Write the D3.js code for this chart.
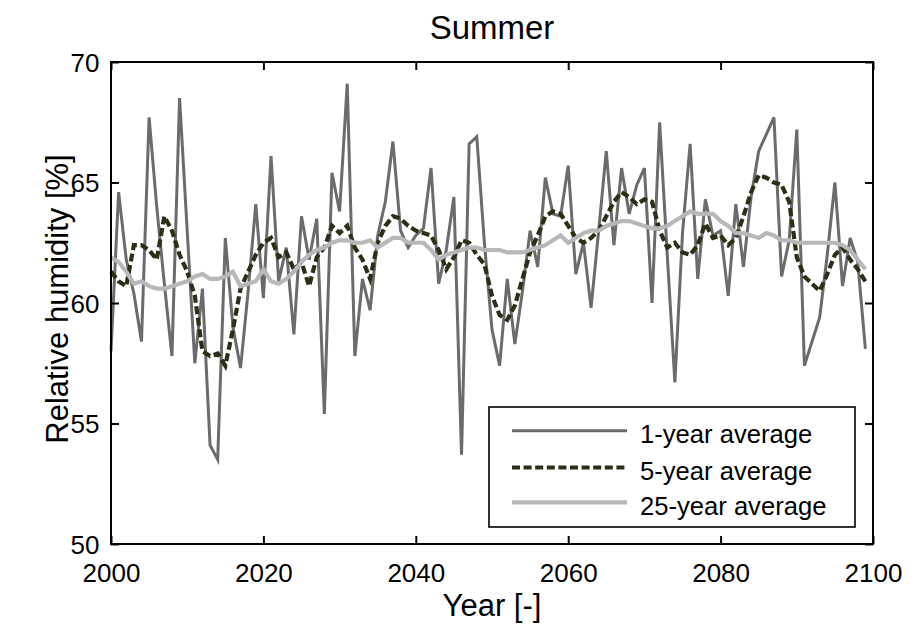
<!DOCTYPE html>
<html>
<head>
<meta charset="utf-8">
<script src="https://cdn.jsdelivr.net/npm/d3@7/dist/d3.min.js"></script>
<style>
  html, body { margin: 0; padding: 0; background: #fff; }
  svg { display: block; font-family: "Liberation Sans", Arial, Helvetica, sans-serif; }
</style>
</head>
<body>
<svg id="chart" width="921" height="634"></svg>
<script>
// Years 2000 .. 2099
const years = d3.range(2000, 2100);

// Annual mean summer relative humidity [%]
const oneYear = [
  58.0, 64.6, 61.8, 60.4, 58.4, 67.7, 64.0, 60.8, 57.8, 68.5,
  63.0, 57.5, 60.6, 54.1, 53.5, 62.7, 59.0, 57.3, 60.5, 64.1,
  60.2, 66.1, 60.9, 62.3, 58.7, 63.6, 61.8, 63.5, 55.4, 65.4,
  63.8, 69.1, 57.8, 61.0, 59.7, 62.8, 64.2, 66.7, 63.0, 62.3,
  62.8, 63.1, 65.6, 60.8, 62.2, 64.4, 53.7, 66.6, 66.9, 62.5,
  58.9, 57.4, 61.0, 58.3, 60.5, 63.0, 61.5, 65.2, 63.7, 63.6,
  65.7, 61.2, 62.5, 59.8, 63.0, 66.3, 62.4, 65.6, 63.7, 64.9,
  65.6, 60.0, 67.5, 62.0, 56.7, 62.9, 66.6, 61.0, 64.3, 62.8,
  63.0, 60.3, 64.1, 61.5, 64.4, 66.3, 67.0, 67.7, 61.1, 62.6,
  67.2, 57.4, 58.4, 59.4, 62.0, 65.0, 60.7, 62.7, 61.7, 58.1
];

// 5-year running mean [%]
const fiveYear = [
  61.3, 60.9, 60.7, 62.4, 62.4, 62.2, 61.8, 63.6, 63.0, 62.0,
  61.3, 60.3, 58.0, 57.8, 57.9, 57.4, 58.9, 60.6, 61.3, 62.0,
  62.5, 62.7, 61.9, 62.1, 61.4, 61.7, 60.7, 61.9, 62.3, 63.2,
  62.9, 63.2, 62.3, 61.8, 61.0, 62.5, 63.2, 63.6, 63.5, 63.2,
  63.0, 62.9, 62.8, 62.2, 61.4, 61.9, 62.6, 62.5, 62.0, 61.6,
  60.3, 59.5, 59.3, 59.9, 61.0, 62.1, 62.8, 63.6, 63.8, 63.7,
  63.2, 62.7, 62.5, 62.7, 63.0, 63.6, 64.2, 64.6, 64.4, 64.1,
  64.3, 64.2, 63.0, 62.3, 62.5, 62.1, 62.0, 62.4, 63.3, 62.7,
  62.8, 62.4, 62.7, 63.6, 64.6, 65.3, 65.2, 65.0, 64.9, 64.2,
  61.9, 61.1, 60.8, 60.5, 61.2, 62.0, 62.3, 61.8, 61.4, 60.9
];

// 25-year running mean [%]
const twentyFiveYear = [
  61.9, 61.7, 61.3, 60.8, 60.9, 60.7, 60.6, 60.6, 60.7, 60.8,
  60.9, 61.1, 61.2, 61.0, 61.0, 61.1, 61.3, 60.7, 60.8, 60.9,
  61.4, 60.9, 60.8, 61.0, 61.3, 61.7, 62.0, 62.2, 62.3, 62.5,
  62.6, 62.6, 62.5, 62.5, 62.6, 62.3, 62.5, 62.7, 62.7, 62.5,
  62.5, 62.5, 62.2, 61.8, 62.0, 62.1, 62.2, 62.3, 62.3, 62.2,
  62.2, 62.2, 62.1, 62.1, 62.1, 62.2, 62.3, 62.4, 62.6, 62.8,
  62.5, 62.7, 62.9, 63.0, 63.0, 63.2, 63.3, 63.4, 63.4, 63.3,
  63.2, 63.1, 63.1, 63.2, 63.4, 63.6, 63.8, 63.7, 63.7, 63.7,
  63.4, 63.2, 62.9, 62.9, 62.8, 62.7, 62.9, 62.8, 62.6, 62.6,
  62.5, 62.5, 62.5, 62.5, 62.5, 62.5, 62.4, 62.2, 61.8, 61.4
];

const xTicks = [2000, 2020, 2040, 2060, 2080, 2100];
const yTicks = [50, 55, 60, 65, 70];
const seriesNames = ["1-year average", "5-year average", "25-year average"];

const titleText = "Summer";
const xLabel = "Year [-]";
const yLabel = "Relative humidity [%]";

// ---- layout ----
const plot = { left: 111, right: 873, top: 62, bottom: 544 };
const svg = d3.select("#chart");

const x = d3.scaleLinear().domain([2000, 2100]).range([plot.left, plot.right]);
const y = d3.scaleLinear().domain([50, 70]).range([plot.bottom, plot.top]);

const styles = [
  { color: "#6b6b6b", width: 3, dash: null },
  { color: "#2e2e17", width: 4.2, dash: "8,3.6" },
  { color: "#b8b8b8", width: 4.2, dash: null }
];

// ---- series lines ----
const allSeries = [oneYear, fiveYear, twentyFiveYear];
const line = d3.line().x((d, i) => x(years[i])).y(d => y(d));

const gLines = svg.append("g");
allSeries.forEach((vals, k) => {
  gLines.append("path")
    .datum(vals)
    .attr("d", line)
    .attr("fill", "none")
    .attr("stroke", styles[k].color)
    .attr("stroke-width", styles[k].width)
    .attr("stroke-linejoin", "miter")
    .attr("stroke-dasharray", styles[k].dash);
});

// ---- axes box with inward ticks on every side ----
const tickLen = 8;
const axisStroke = 2;

const gx = svg.append("g").attr("transform", `translate(0,${plot.bottom})`)
  .call(d3.axisBottom(x).tickValues(xTicks).tickSizeInner(-tickLen).tickSizeOuter(0).tickFormat(d3.format("d")));
gx.selectAll("text").attr("y", 38).attr("dy", null);

const gxTop = svg.append("g").attr("transform", `translate(0,${plot.top})`)
  .call(d3.axisTop(x).tickValues(xTicks).tickSizeInner(-tickLen).tickSizeOuter(0).tickFormat(""));

const gy = svg.append("g").attr("transform", `translate(${plot.left},0)`)
  .call(d3.axisLeft(y).tickValues(yTicks).tickSizeInner(-tickLen).tickSizeOuter(0));
gy.selectAll("text").attr("x", -11.5).attr("dy", "0.36em");

const gyRight = svg.append("g").attr("transform", `translate(${plot.right},0)`)
  .call(d3.axisRight(y).tickValues(yTicks).tickSizeInner(-tickLen).tickSizeOuter(0).tickFormat(""));

[gx, gxTop, gy, gyRight].forEach(g => {
  g.select(".domain").remove();
  g.selectAll("line").attr("stroke", "#000").attr("stroke-width", axisStroke);
  g.selectAll("text").attr("fill", "#000").style("font-size", "26px")
    .style("font-family", "Liberation Sans, Arial, sans-serif");
});

svg.append("rect")
  .attr("x", plot.left).attr("y", plot.top)
  .attr("width", plot.right - plot.left).attr("height", plot.bottom - plot.top)
  .attr("fill", "none").attr("stroke", "#000").attr("stroke-width", axisStroke);

// ---- titles ----
svg.append("text")
  .attr("x", (plot.left + plot.right) / 2).attr("y", 39)
  .attr("text-anchor", "middle").style("font-size", "33px")
  .text(titleText);

svg.append("text")
  .attr("x", (plot.left + plot.right) / 2).attr("y", 616)
  .attr("text-anchor", "middle").style("font-size", "31px")
  .text(xLabel);

svg.append("text")
  .attr("transform", `translate(68,${(plot.top + plot.bottom) / 2 - 4}) rotate(-90)`)
  .attr("text-anchor", "middle").style("font-size", "31px")
  .text(yLabel);

// ---- legend ----
const leg = { x0: 489, y0: 407, x1: 855, y1: 527 };
const legendRows = [430.7, 467.5, 502.3];
const gLeg = svg.append("g");
gLeg.append("rect")
  .attr("x", leg.x0).attr("y", leg.y0)
  .attr("width", leg.x1 - leg.x0).attr("height", leg.y1 - leg.y0)
  .attr("fill", "#fff").attr("stroke", "#000").attr("stroke-width", 1.6);

seriesNames.forEach((name, k) => {
  gLeg.append("line")
    .attr("x1", 512).attr("x2", 627)
    .attr("y1", legendRows[k]).attr("y2", legendRows[k])
    .attr("stroke", styles[k].color)
    .attr("stroke-width", styles[k].width)
    .attr("stroke-dasharray", styles[k].dash);
  gLeg.append("text")
    .attr("x", 640).attr("y", legendRows[k] + 12.5)
    .style("font-size", "25.6px")
    .text(name);
});
</script>
</body>
</html>
